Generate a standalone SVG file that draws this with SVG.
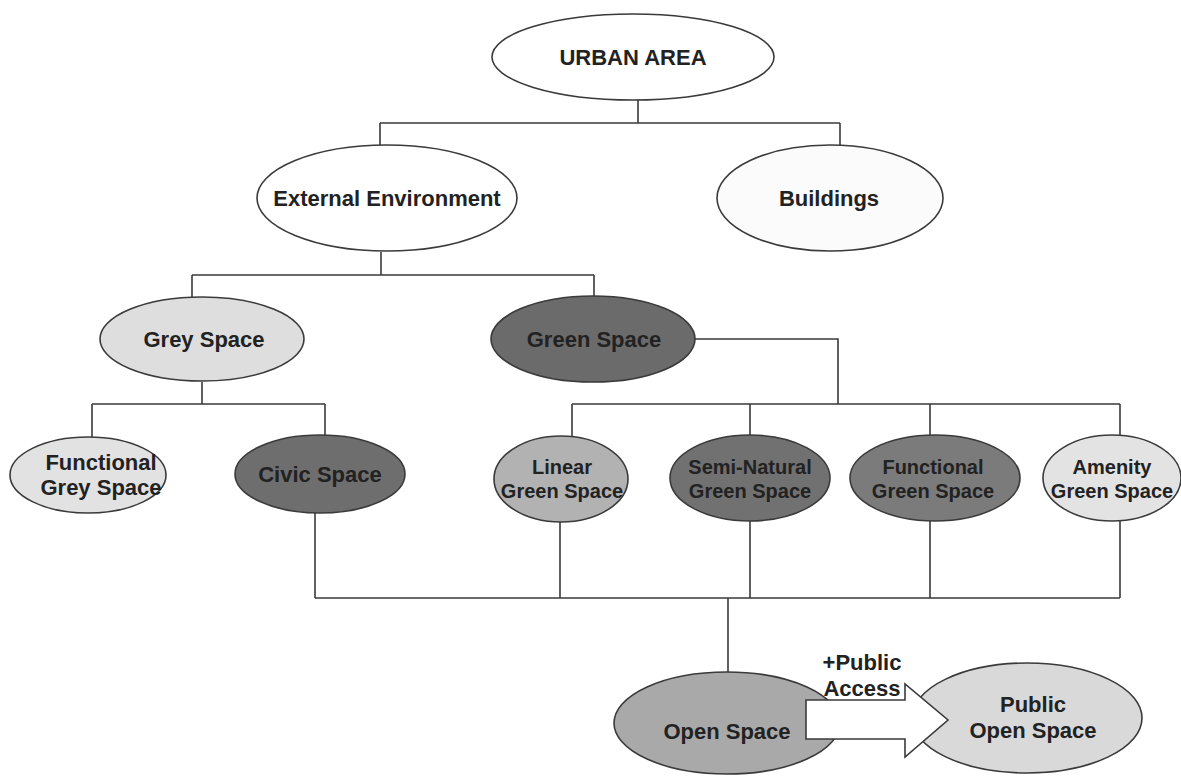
<svg xmlns="http://www.w3.org/2000/svg" width="1181" height="776" viewBox="0 0 1181 776">
<style>
.n{stroke:#3a3a3a;stroke-width:1.6}
.t{font-family:"Liberation Sans",Arial,sans-serif;font-weight:bold;font-size:22px;fill:#222222;text-anchor:middle}
.s{font-size:20px}
.c{fill:none;stroke:#3a3a3a;stroke-width:1.6}
</style>
<rect width="1181" height="776" fill="#ffffff"/>
<g id="connectors">
<path class="c" d="M638 100V123M380 123H840M380 123V145M840 123V145"/>
<path class="c" d="M381 252V275M192 275H594M192 275V297M594 275V297"/>
<path class="c" d="M202 382V404M92 404H325M92 404V437M325 404V436"/>
<path class="c" d="M695 339H838V404M572 404H1120M572 404V436M750 404V436M930 404V436M1120 404V436"/>
<path class="c" d="M315 513V598M560 521V598M750 521V598M930 521V598M1120 521V598M315 598H1120M728 598V672"/>
</g>
<g id="urban-area"><ellipse class="n" cx="633" cy="57" rx="141" ry="43" fill="#ffffff"/><text class="t" x="633" y="65" font-size="23">URBAN AREA</text></g>
<g id="external-environment"><ellipse class="n" cx="387" cy="198" rx="130" ry="53" fill="#ffffff"/><text class="t" x="387" y="206">External Environment</text></g>
<g id="buildings"><ellipse class="n" cx="830" cy="198" rx="113" ry="53" fill="#fbfbfb"/><text class="t" x="829" y="206">Buildings</text></g>
<g id="grey-space"><ellipse class="n" cx="202" cy="339" rx="102" ry="42" fill="#dedede"/><text class="t" x="204" y="347">Grey Space</text></g>
<g id="green-space"><ellipse class="n" cx="593" cy="339" rx="102" ry="43" fill="#6b6b6b"/><text class="t" x="594" y="347">Green Space</text></g>
<g id="functional-grey-space"><ellipse class="n" cx="88" cy="475" rx="78" ry="38" fill="#e2e2e2"/><text class="t" x="101" y="470">Functional</text><text class="t" x="101" y="495">Grey Space</text></g>
<g id="civic-space"><ellipse class="n" cx="320" cy="474" rx="85" ry="39" fill="#6e6e6e"/><text class="t" x="320" y="482">Civic Space</text></g>
<g id="linear-green-space"><ellipse class="n" cx="561" cy="479" rx="67" ry="43" fill="#b2b2b2"/><text class="t s" x="562" y="474">Linear</text><text class="t s" x="562" y="498">Green Space</text></g>
<g id="semi-natural-green-space"><ellipse class="n" cx="750" cy="478" rx="80" ry="43" fill="#717171"/><text class="t s" x="750" y="474">Semi-Natural</text><text class="t s" x="750" y="498">Green Space</text></g>
<g id="functional-green-space"><ellipse class="n" cx="935" cy="478" rx="85" ry="43" fill="#7b7b7b"/><text class="t s" x="933" y="474">Functional</text><text class="t s" x="933" y="498">Green Space</text></g>
<g id="amenity-green-space"><ellipse class="n" cx="1112" cy="478" rx="69" ry="43" fill="#e3e3e3"/><text class="t s" x="1112" y="474">Amenity</text><text class="t s" x="1112" y="498">Green Space</text></g>
<g id="open-space"><ellipse class="n" cx="727" cy="723" rx="113" ry="51" fill="#a9a9a9"/><text class="t" x="727" y="739">Open Space</text></g>
<g id="public-open-space"><ellipse class="n" cx="1027" cy="718" rx="115" ry="55" fill="#d9d9d9"/><text class="t" x="1033" y="712">Public</text><text class="t" x="1033" y="738">Open Space</text></g>
<g id="public-access-arrow">
<polygon class="n" points="806,700 905,700 905,684 948,720 905,757 905,739 806,739" fill="#ffffff"/>
<text class="t" x="862" y="670">+Public</text><text class="t" x="862" y="696">Access</text>
</g>
</svg>
